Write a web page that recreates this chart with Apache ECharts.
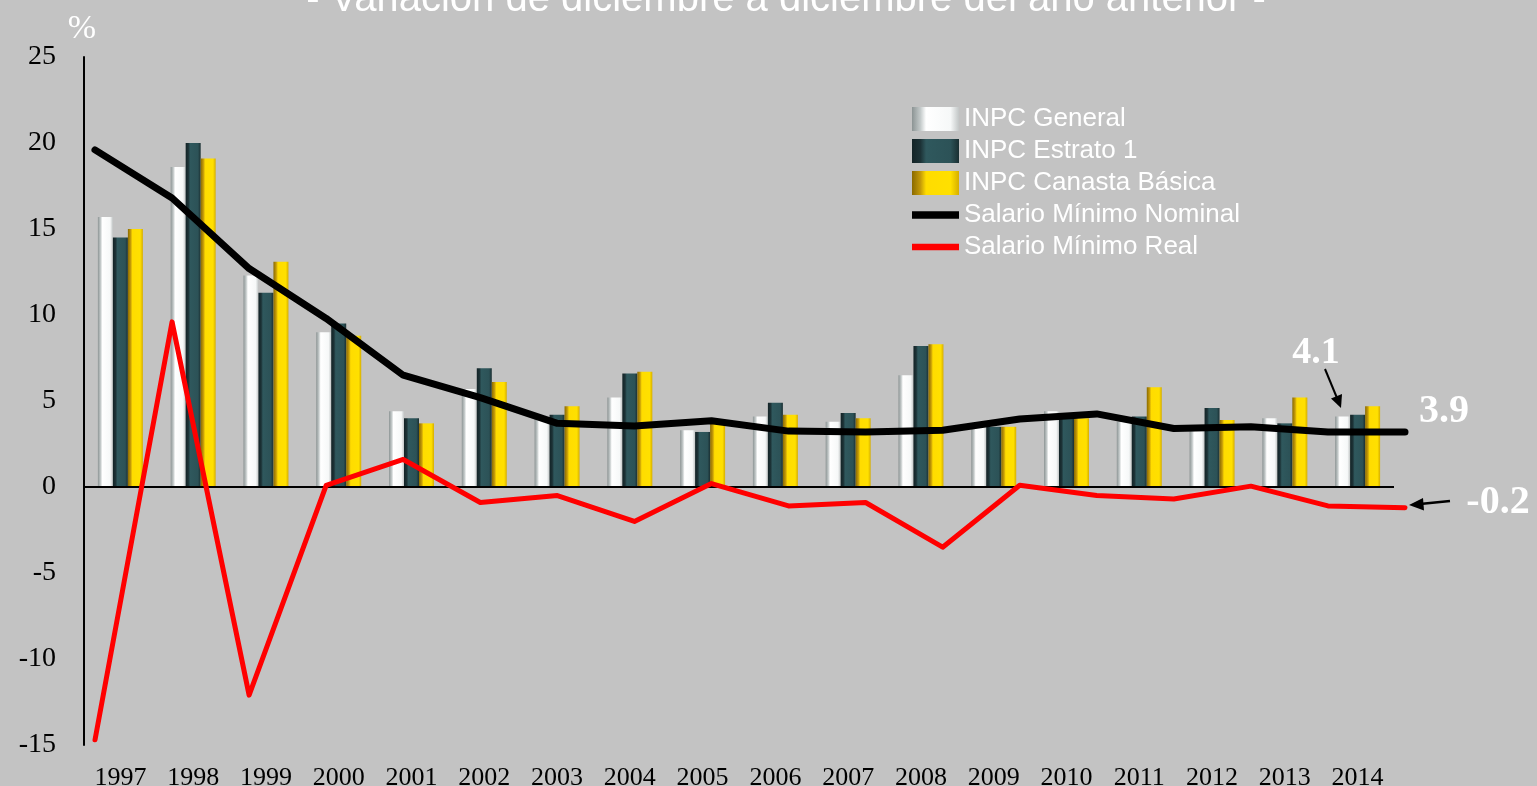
<!DOCTYPE html>
<html>
<head>
<meta charset="utf-8">
<title>Salario mínimo e INPC</title>
<script src="https://cdn.jsdelivr.net/npm/echarts@6/dist/echarts.min.js"></script>
<style>
    html, body { margin: 0; padding: 0; background: #c3c3c3; }
    #chart { width: 1537px; height: 786px; }
</style>
</head>
<body>
<div id="chart"></div>
<script>
    // años
    var years = ['1997', '1998', '1999', '2000', '2001', '2002', '2003', '2004', '2005',
        '2006', '2007', '2008', '2009', '2010', '2011', '2012', '2013', '2014'];

    // variación dic-dic, %
    var inpcGeneral = [15.7, 18.6, 12.3, 9.0, 4.4, 5.7, 4.0, 5.2, 3.3, 4.1, 3.8, 6.5, 3.6, 4.4, 3.8, 3.6, 4.0, 4.1];
    var inpcEstrato1 = [14.5, 20.0, 11.3, 9.5, 4.0, 6.9, 4.2, 6.6, 3.2, 4.9, 4.3, 8.2, 3.5, 4.0, 4.1, 4.6, 3.7, 4.2];
    var inpcCanasta = [15.0, 19.1, 13.1, 8.8, 3.7, 6.1, 4.7, 6.7, 3.7, 4.2, 4.0, 8.3, 3.5, 4.0, 5.8, 3.9, 5.2, 4.7];
    var salarioNominal = [19.6, 16.8, 12.7, 9.8, 6.5, 5.2, 3.7, 3.55, 3.85, 3.25, 3.2, 3.3, 3.95, 4.25, 3.4, 3.5, 3.2, 3.2];
    var salarioReal = [-14.7, 9.6, -12.1, 0.1, 1.6, -0.9, -0.5, -2.0, 0.2, -1.1, -0.9, -3.5, 0.1, -0.5, -0.7, 0.05, -1.1, -1.2];

    var yTicks = { min: -15, max: 25, interval: 5 };

    // barras con efecto 3d (degradado horizontal)
    function bevel(c0, c1, c2, c3, c4) {
        return new echarts.graphic.LinearGradient(0, 0, 1, 0, [
            { offset: 0, color: c0 },
            { offset: 0.18, color: c1 },
            { offset: 0.3, color: c2 },
            { offset: 0.82, color: c3 },
            { offset: 1, color: c4 }
        ]);
    }

    var chart = echarts.init(document.getElementById('chart'));

    var serif = '"Liberation Serif", "Times New Roman", serif';
    var sans = '"Liberation Sans", Arial, sans-serif';

    var option = {
        backgroundColor: '#c3c3c3',
        animation: false,
        legend: {
            orient: 'vertical',
            left: 907,
            top: 101,
            itemWidth: 47,
            itemHeight: 24,
            itemGap: 6,
            textStyle: { color: '#fff', fontSize: 26, fontFamily: sans, lineHeight: 26 },
            data: [
                { name: 'INPC General', icon: 'rect' },
                { name: 'INPC Estrato 1', icon: 'rect' },
                { name: 'INPC Canasta Básica', icon: 'rect' },
                { name: 'Salario Mínimo Nominal', icon: 'path://M0,0h45v7h-45z' },
                { name: 'Salario Mínimo Real', icon: 'path://M0,0h45v6h-45z' }
            ]
        },
        grid: [
            { left: 84, right: 143, top: 57, bottom: 41, outerBoundsMode: 'none' },
            { left: 95, right: 132, top: 57, bottom: 41, outerBoundsMode: 'none' }
        ],
        xAxis: [
            {
                type: 'category',
                gridIndex: 0,
                data: years,
                axisLine: { show: false, onZero: false },
                axisTick: { show: false },
                axisLabel: { color: '#000', fontSize: 26, fontFamily: serif, margin: 20 }
            },
            {
                type: 'category',
                gridIndex: 1,
                data: years,
                boundaryGap: false,
                show: false
            }
        ],
        yAxis: [
            {
                type: 'value',
                gridIndex: 0,
                min: yTicks.min,
                max: yTicks.max,
                interval: yTicks.interval,
                axisLine: { show: true, lineStyle: { color: '#000', width: 2 } },
                axisTick: { show: false },
                splitLine: { show: false },
                axisLabel: { color: '#000', fontSize: 28, fontFamily: serif, margin: 28 }
            },
            {
                type: 'value',
                gridIndex: 1,
                min: yTicks.min,
                max: yTicks.max,
                interval: yTicks.interval,
                show: false
            }
        ],
        graphic: [
            {
                type: 'text', x: 786, y: 20, silent: true,
                style: {
                    text: '- Variación de diciembre a diciembre del año anterior -',
                    fill: '#fff', font: '40px ' + sans, align: 'center', verticalAlign: 'bottom'
                }
            },
            {
                type: 'text', x: 82, y: 29, silent: true,
                style: { text: '%', fill: '#fff', font: '34px ' + serif, align: 'center', verticalAlign: 'middle' }
            },
            // anotaciones del último año
            {
                type: 'text', x: 1316, y: 353, silent: true,
                style: { text: '4.1', fill: '#fff', font: 'bold 38px ' + serif, align: 'center', verticalAlign: 'middle' }
            },
            {
                type: 'text', x: 1444, y: 412, silent: true,
                style: { text: '3.9', fill: '#fff', font: 'bold 40px ' + serif, align: 'center', verticalAlign: 'middle' }
            },
            {
                type: 'text', x: 1498, y: 503, silent: true,
                style: { text: '-0.2', fill: '#fff', font: 'bold 40px ' + serif, align: 'center', verticalAlign: 'middle' }
            },
            {
                type: 'line', silent: true,
                shape: { x1: 1325, y1: 369, x2: 1337, y2: 398 },
                style: { stroke: '#000', lineWidth: 2 }
            },
            {
                type: 'polygon', silent: true,
                shape: { points: [[1341, 408], [1342, 394], [1331, 398.5]] },
                style: { fill: '#000' }
            },
            {
                type: 'line', silent: true,
                shape: { x1: 1450, y1: 501, x2: 1420, y2: 504 },
                style: { stroke: '#000', lineWidth: 2.5 }
            },
            {
                type: 'polygon', silent: true,
                shape: { points: [[1409, 505], [1424, 510.5], [1423, 498]] },
                style: { fill: '#000' }
            }
        ],
        series: [
            {
                name: 'INPC General',
                type: 'bar',
                xAxisIndex: 0,
                yAxisIndex: 0,
                barWidth: 15,
                barGap: '0%',
                itemStyle: { color: bevel('#8c9494', '#c4caca', '#ffffff', '#f6f8f8', '#c2c6c6') },
                data: inpcGeneral,
                markLine: {
                    silent: true,
                    symbol: 'none',
                    label: { show: false },
                    lineStyle: { color: '#000', width: 2, type: 'solid' },
                    data: [{ yAxis: 0 }]
                }
            },
            {
                name: 'INPC Estrato 1',
                type: 'bar',
                xAxisIndex: 0,
                yAxisIndex: 0,
                barWidth: 15,
                barGap: '0%',
                itemStyle: { color: bevel('#132326', '#1c3236', '#2f585d', '#2c5257', '#1a2f32') },
                data: inpcEstrato1
            },
            {
                name: 'INPC Canasta Básica',
                type: 'bar',
                xAxisIndex: 0,
                yAxisIndex: 0,
                barWidth: 15,
                barGap: '0%',
                itemStyle: { color: bevel('#8a6a00', '#c49a08', '#ffdc00', '#ffe000', '#d6ae00') },
                data: inpcCanasta
            },
            {
                name: 'Salario Mínimo Nominal',
                type: 'line',
                xAxisIndex: 1,
                yAxisIndex: 1,
                symbol: 'none',
                z: 5,
                itemStyle: { color: '#000' },
                lineStyle: { color: '#000', width: 7, cap: 'round', join: 'round' },
                data: salarioNominal
            },
            {
                name: 'Salario Mínimo Real',
                type: 'line',
                xAxisIndex: 1,
                yAxisIndex: 1,
                symbol: 'none',
                z: 6,
                itemStyle: { color: '#ff0000' },
                lineStyle: { color: '#ff0000', width: 5, cap: 'round', join: 'round' },
                data: salarioReal
            }
        ]
    };

    chart.setOption(option);
</script>
</body>
</html>
